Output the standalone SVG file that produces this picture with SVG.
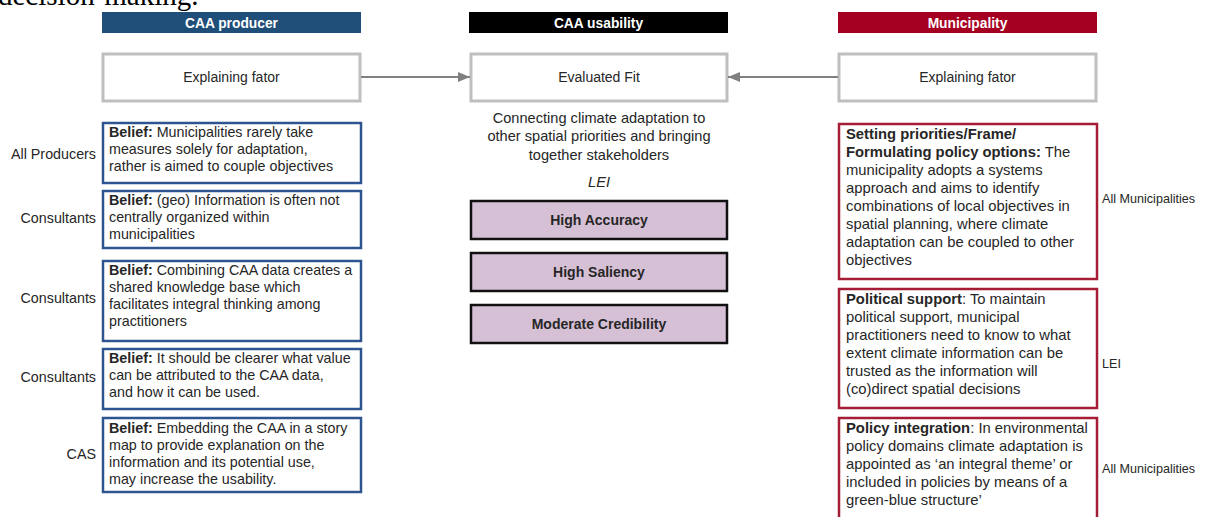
<svg xmlns="http://www.w3.org/2000/svg" width="1206" height="517" viewBox="0 0 1206 517">
  <style>
    text { font-family: "Liberation Sans", Arial, sans-serif; fill: #262626; }
    .hdr { font-size: 13.8px; font-weight: bold; fill: #ffffff; text-anchor: middle; }
    .fac { fill: #ffffff; stroke: #bfbfbf; stroke-width: 3; }
    .fact { font-size: 14px; text-anchor: middle; }
    .bel { fill: #ffffff; stroke: #2f5590; stroke-width: 2.5; }
    .mun { fill: #ffffff; stroke: #a51c36; stroke-width: 2.5; }
    .body { font-size: 14.3px; }
    .bodyr { font-size: 14.8px; }
    .side { font-size: 14.3px; text-anchor: end; }
    .sider { font-size: 12.6px; }
    .pur { fill: #d6c0d5; stroke: #111111; stroke-width: 2.5; }
    .purt { font-size: 14px; font-weight: bold; text-anchor: middle; }
    .ctr { font-size: 14.6px; text-anchor: middle; }
    .b { font-weight: bold; }
    .conn { stroke: #808080; stroke-width: 2; fill: none; }
  </style>
  <defs>
    <marker id="arrow" viewBox="0 0 12 10" refX="12" refY="5" markerWidth="12" markerHeight="10" markerUnits="userSpaceOnUse" orient="auto">
      <path d="M0,0 L12,5 L0,10 Z" fill="#808080"/>
    </marker>
  </defs>

  <rect width="1206" height="517" fill="#ffffff"/>

  <!-- running text from the page above, clipped by the top edge -->
  <text x="-2" y="5" style="font-family: 'Liberation Serif', 'Times New Roman', serif; font-size: 29px; fill: #000000;">decision-making.</text>

  <!-- column headers -->
  <g id="hdr-producer">
    <rect x="102" y="12" width="259" height="21" fill="#1f4e79"/>
    <text class="hdr" x="231.5" y="27.5">CAA producer</text>
  </g>
  <g id="hdr-usability">
    <rect x="469" y="12" width="259" height="21" fill="#000000"/>
    <text class="hdr" x="598.5" y="27.5">CAA usability</text>
  </g>
  <g id="hdr-municipality">
    <rect x="838" y="12" width="259" height="21" fill="#a50021"/>
    <text class="hdr" x="967.5" y="27.5">Municipality</text>
  </g>

  <!-- top row -->
  <g id="producer-factor">
    <rect class="fac" x="103" y="54" width="257" height="47"/>
    <text class="fact" x="231.5" y="82">Explaining fator</text>
  </g>
  <g id="evaluated-fit">
    <rect class="fac" x="471" y="54" width="256" height="47"/>
    <text class="fact" x="599" y="82">Evaluated Fit</text>
  </g>
  <g id="municipality-factor">
    <rect class="fac" x="839" y="54" width="257" height="47"/>
    <text class="fact" x="967.5" y="82">Explaining fator</text>
  </g>

  <g id="connectors">
    <line class="conn" x1="361" y1="77" x2="470" y2="77" marker-end="url(#arrow)"/>
    <line class="conn" x1="838" y1="77" x2="728" y2="77" marker-end="url(#arrow)"/>
  </g>

  <!-- producer beliefs -->
  <g id="belief-1">
    <text class="side" x="96" y="159">All Producers</text>
    <rect class="bel" x="103" y="123" width="258" height="60"/>
    <text class="body" x="109" y="137"><tspan class="b">Belief:</tspan> Municipalities rarely take</text>
    <text class="body" x="109" y="154">measures solely for adaptation,</text>
    <text class="body" x="109" y="171">rather is aimed to couple objectives</text>
  </g>
  <g id="belief-2">
    <text class="side" x="96" y="223">Consultants</text>
    <rect class="bel" x="103" y="191" width="258" height="57"/>
    <text class="body" x="109" y="205"><tspan class="b">Belief:</tspan> (geo) Information is often not</text>
    <text class="body" x="109" y="222">centrally organized within</text>
    <text class="body" x="109" y="239">municipalities</text>
  </g>
  <g id="belief-3">
    <text class="side" x="96" y="303">Consultants</text>
    <rect class="bel" x="103" y="261" width="258" height="80"/>
    <text class="body" x="109" y="275"><tspan class="b">Belief:</tspan> Combining CAA data creates a</text>
    <text class="body" x="109" y="292">shared knowledge base which</text>
    <text class="body" x="109" y="309">facilitates integral thinking among</text>
    <text class="body" x="109" y="326">practitioners</text>
  </g>
  <g id="belief-4">
    <text class="side" x="96" y="382">Consultants</text>
    <rect class="bel" x="103" y="349" width="258" height="60"/>
    <text class="body" x="109" y="363"><tspan class="b">Belief:</tspan> It should be clearer what value</text>
    <text class="body" x="109" y="380">can be attributed to the CAA data,</text>
    <text class="body" x="109" y="397">and how it can be used.</text>
  </g>
  <g id="belief-5">
    <text class="side" x="96" y="459">CAS</text>
    <rect class="bel" x="103" y="418" width="258" height="74"/>
    <text class="body" x="109" y="433"><tspan class="b">Belief:</tspan> Embedding the CAA in a story</text>
    <text class="body" x="109" y="450">map to provide explanation on the</text>
    <text class="body" x="109" y="467">information and its potential use,</text>
    <text class="body" x="109" y="484">may increase the usability.</text>
  </g>

  <!-- usability column -->
  <g id="fit-description">
    <text class="ctr" x="599" y="123">Connecting climate adaptation to</text>
    <text class="ctr" x="599" y="141">other spatial priorities and bringing</text>
    <text class="ctr" x="599" y="160">together stakeholders</text>
    <text class="ctr" x="599" y="187" font-style="italic">LEI</text>
  </g>
  <g id="high-accuracy">
    <rect class="pur" x="471" y="201" width="256" height="38"/>
    <text class="purt" x="599" y="225">High Accuracy</text>
  </g>
  <g id="high-saliency">
    <rect class="pur" x="471" y="253" width="256" height="38"/>
    <text class="purt" x="599" y="277">High Saliency</text>
  </g>
  <g id="moderate-credibility">
    <rect class="pur" x="471" y="305" width="256" height="38"/>
    <text class="purt" x="599" y="329">Moderate Credibility</text>
  </g>

  <!-- municipality factors -->
  <g id="setting-priorities">
    <rect class="mun" x="839" y="124" width="258" height="155"/>
    <text class="bodyr b" x="846" y="139">Setting priorities/Frame/</text>
    <text class="bodyr" x="846" y="157"><tspan class="b">Formulating policy options:</tspan> The</text>
    <text class="bodyr" x="846" y="175">municipality adopts a systems</text>
    <text class="bodyr" x="846" y="193">approach and aims to identify</text>
    <text class="bodyr" x="846" y="211">combinations of local objectives in</text>
    <text class="bodyr" x="846" y="229">spatial planning, where climate</text>
    <text class="bodyr" x="846" y="247">adaptation can be coupled to other</text>
    <text class="bodyr" x="846" y="265">objectives</text>
    <text class="sider" x="1102" y="203">All Municipalities</text>
  </g>
  <g id="political-support">
    <rect class="mun" x="839" y="289" width="258" height="119"/>
    <text class="bodyr" x="846" y="304"><tspan class="b">Political support</tspan>: To maintain</text>
    <text class="bodyr" x="846" y="322">political support, municipal</text>
    <text class="bodyr" x="846" y="340">practitioners need to know to what</text>
    <text class="bodyr" x="846" y="358">extent climate information can be</text>
    <text class="bodyr" x="846" y="376">trusted as the information will</text>
    <text class="bodyr" x="846" y="394">(co)direct spatial decisions</text>
    <text class="sider" x="1102" y="368">LEI</text>
  </g>
  <g id="policy-integration">
    <rect class="mun" x="839" y="418" width="258" height="110"/>
    <text class="bodyr" x="846" y="433"><tspan class="b">Policy integration</tspan>: In environmental</text>
    <text class="bodyr" x="846" y="451">policy domains climate adaptation is</text>
    <text class="bodyr" x="846" y="469">appointed as ‘an integral theme’ or</text>
    <text class="bodyr" x="846" y="487">included in policies by means of a</text>
    <text class="bodyr" x="846" y="505">green-blue structure’</text>
    <text class="sider" x="1102" y="473">All Municipalities</text>
  </g>
</svg>
